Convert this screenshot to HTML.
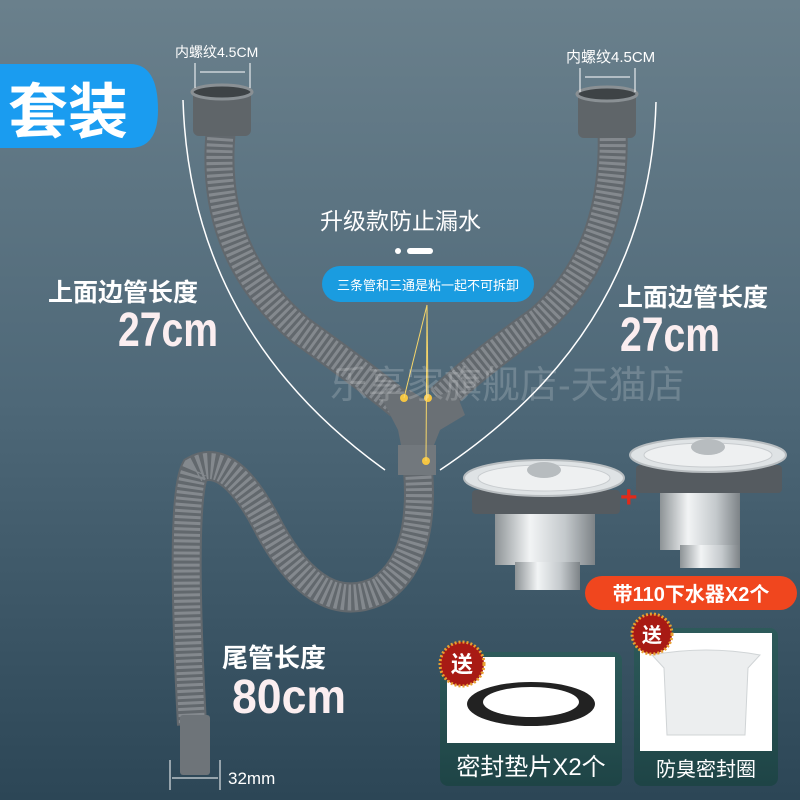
<!DOCTYPE html>
<html><head><meta charset="utf-8"><style>
body{margin:0}
svg text{font-family:"Liberation Sans","Noto Sans CJK SC",sans-serif}
</style></head><body>
<svg width="800" height="800" viewBox="0 0 800 800" xmlns="http://www.w3.org/2000/svg">
<defs>
<linearGradient id="bg" x1="0" y1="0" x2="0" y2="1">
<stop offset="0" stop-color="#6a808c"/><stop offset="0.5" stop-color="#4e6878"/><stop offset="1" stop-color="#2c4656"/>
</linearGradient>
<linearGradient id="steel" x1="0" y1="0" x2="1" y2="0">
<stop offset="0" stop-color="#8d9396"/><stop offset="0.35" stop-color="#f2f4f5"/><stop offset="0.7" stop-color="#c4c9cc"/><stop offset="1" stop-color="#7d8387"/>
</linearGradient>
<linearGradient id="card" x1="0" y1="0" x2="0" y2="1">
<stop offset="0" stop-color="#2d5a5a"/><stop offset="1" stop-color="#1e4446"/>
</linearGradient>
</defs>
<rect width="800" height="800" fill="url(#bg)"/>
<path d="M0 64 H130 Q158 64 158 110 Q158 148 130 148 H0Z" fill="#1a9cf0"/>
<text x="8" y="133" font-size="60" font-weight="bold" fill="#fff">套装</text>
<path d="M183 100 Q190 330 385 470" stroke="#fff" stroke-width="1.5" fill="none"/>
<path d="M656 102 Q650 330 440 470" stroke="#fff" stroke-width="1.5" fill="none"/>
<g fill="none" stroke-linecap="butt">
<path d="M222 120 Q205 250 300 330 Q370 380 400 405" stroke="#62686d" stroke-width="30"/>
<path d="M222 120 Q205 250 300 330 Q370 380 400 405" stroke="#84898e" stroke-width="26" stroke-dasharray="3 3"/>
<path d="M612 120 Q620 250 540 320 Q470 370 440 400" stroke="#62686d" stroke-width="30"/>
<path d="M612 120 Q620 250 540 320 Q470 370 440 400" stroke="#84898e" stroke-width="26" stroke-dasharray="3 3"/>
<path d="M418 470 Q425 560 380 590 Q320 620 270 530 Q230 450 195 470 Q180 500 192 725" stroke="#62686d" stroke-width="30"/>
<path d="M418 470 Q425 560 380 590 Q320 620 270 530 Q230 450 195 470 Q180 500 192 725" stroke="#84898e" stroke-width="26" stroke-dasharray="3 3"/>
</g>
<rect x="180" y="715" width="30" height="60" rx="3" fill="#6e7479"/>
<rect x="193" y="88" width="58" height="48" rx="6" fill="#5f6569"/>
<ellipse cx="222" cy="92" rx="30" ry="7" fill="#3e4346" stroke="#8a9094" stroke-width="3"/>
<rect x="578" y="90" width="58" height="48" rx="6" fill="#5f6569"/>
<ellipse cx="607" cy="94" rx="30" ry="7" fill="#3e4346" stroke="#8a9094" stroke-width="3"/>
<path d="M380 395 L410 390 L425 400 L455 390 L465 415 L440 430 L432 450 L402 450 L398 430 Z" fill="#6a7075"/>
<rect x="398" y="445" width="38" height="30" fill="#72787d"/>
<circle cx="404" cy="398" r="4" fill="#f5c542"/><circle cx="428" cy="398" r="4" fill="#f5c542"/><circle cx="426" cy="461" r="4" fill="#f5c542"/>
<g stroke="#f5d56a" stroke-width="1"><line x1="427" y1="305" x2="404" y2="398"/><line x1="427" y1="305" x2="428" y2="398"/><line x1="427" y1="305" x2="426" y2="461"/></g>
<text x="175" y="57" font-size="14" fill="#fff">内螺纹4.5CM</text>
<line x1="195" y1="63" x2="195" y2="88" stroke="#fff"/><line x1="250" y1="63" x2="250" y2="88" stroke="#fff"/>
<line x1="200" y1="72" x2="245" y2="72" stroke="#fff"/>
<text x="566" y="62" font-size="15" fill="#fff">内螺纹4.5CM</text>
<line x1="580" y1="68" x2="580" y2="92" stroke="#fff"/><line x1="635" y1="68" x2="635" y2="92" stroke="#fff"/>
<line x1="585" y1="77" x2="630" y2="77" stroke="#fff"/>
<text x="320" y="229" font-size="23" fill="#fff">升级款防止漏水</text>
<circle cx="398" cy="251" r="3" fill="#fff"/><rect x="407" y="248" width="26" height="6" rx="3" fill="#fff"/>
<rect x="322" y="266" width="212" height="36" rx="18" fill="#1a9ce0"/>
<text x="428" y="290" font-size="13" fill="#fff" text-anchor="middle">三条管和三通是粘一起不可拆卸</text>
<text x="48" y="301" font-size="25" font-weight="bold" fill="#fff">上面边管长度</text>
<text x="118" y="346" font-size="48" font-weight="bold" fill="#fbeef0" textLength="100" lengthAdjust="spacingAndGlyphs">27cm</text>
<text x="618" y="306" font-size="25" font-weight="bold" fill="#fff">上面边管长度</text>
<text x="620" y="351" font-size="48" font-weight="bold" fill="#fbeef0" textLength="100" lengthAdjust="spacingAndGlyphs">27cm</text>
<text x="330" y="398" font-size="38" fill="#fff" opacity="0.18">乐享家旗舰店-天猫店</text>
<text x="222" y="667" font-size="26" font-weight="bold" fill="#fff">尾管长度</text>
<text x="232" y="713" font-size="48" font-weight="bold" fill="#fbeef0" textLength="114" lengthAdjust="spacingAndGlyphs">80cm</text>
<line x1="170" y1="760" x2="170" y2="790" stroke="#fff"/><line x1="220" y1="760" x2="220" y2="790" stroke="#fff"/>
<line x1="172" y1="778" x2="218" y2="778" stroke="#fff"/>
<text x="228" y="784" font-size="17" fill="#fff">32mm</text>
<g>
<path d="M495 508 H595 V565 H495Z" fill="url(#steel)"/>
<rect x="515" y="562" width="65" height="28" fill="url(#steel)"/>
<rect x="472" y="490" width="148" height="24" rx="4" fill="#555b60"/>
<ellipse cx="544" cy="478" rx="80" ry="18" fill="#dfe3e5" stroke="#b8bdc0" stroke-width="2"/>
<ellipse cx="544" cy="478" rx="66" ry="13" fill="#eef0f1" stroke="#c8cccf"/>
<ellipse cx="544" cy="470" rx="17" ry="8" fill="#b7bcbf"/>
<path d="M660 485 H740 V550 H660Z" fill="url(#steel)"/>
<rect x="680" y="545" width="60" height="23" fill="url(#steel)"/>
<rect x="636" y="465" width="146" height="28" rx="4" fill="#555b60"/>
<ellipse cx="708" cy="455" rx="78" ry="17" fill="#dfe3e5" stroke="#b8bdc0" stroke-width="2"/>
<ellipse cx="708" cy="455" rx="64" ry="12" fill="#eef0f1" stroke="#c8cccf"/>
<ellipse cx="708" cy="447" rx="17" ry="8" fill="#b7bcbf"/>
<text x="620" y="507" font-size="30" fill="#e02a1a" font-weight="bold">+</text>
</g>
<rect x="585" y="576" width="212" height="34" rx="17" fill="#f0461e"/>
<text x="691" y="601" font-size="20" font-weight="bold" fill="#fff" text-anchor="middle">带110下水器X2个</text>
<rect x="440" y="652" width="182" height="134" rx="8" fill="url(#card)"/>
<rect x="447" y="657" width="168" height="86" fill="#fff"/>
<ellipse cx="531" cy="704" rx="64" ry="22" fill="#222"/>
<ellipse cx="531" cy="702" rx="48" ry="15" fill="#fff"/>
<text x="531" y="775" font-size="24" fill="#fff" text-anchor="middle">密封垫片X2个</text>
<rect x="634" y="628" width="144" height="158" rx="8" fill="url(#card)"/>
<rect x="640" y="633" width="132" height="118" fill="#fff"/>
<path d="M652 655 Q706 645 760 655 L748 668 L745 735 H667 L664 668Z" fill="#eceeef" stroke="#d0d4d6"/>
<text x="706" y="776" font-size="20" fill="#fff" text-anchor="middle">防臭密封圈</text>
<circle cx="462" cy="664" r="22" fill="#a81a14" stroke="#e8a030" stroke-width="3" stroke-dasharray="2 2"/>
<text x="462" y="672" font-size="22" font-weight="bold" fill="#fff" text-anchor="middle">送</text>
<circle cx="652" cy="634" r="20" fill="#a81a14" stroke="#e8a030" stroke-width="3" stroke-dasharray="2 2"/>
<text x="652" y="642" font-size="20" font-weight="bold" fill="#fff" text-anchor="middle">送</text>
</svg>
</body></html>
